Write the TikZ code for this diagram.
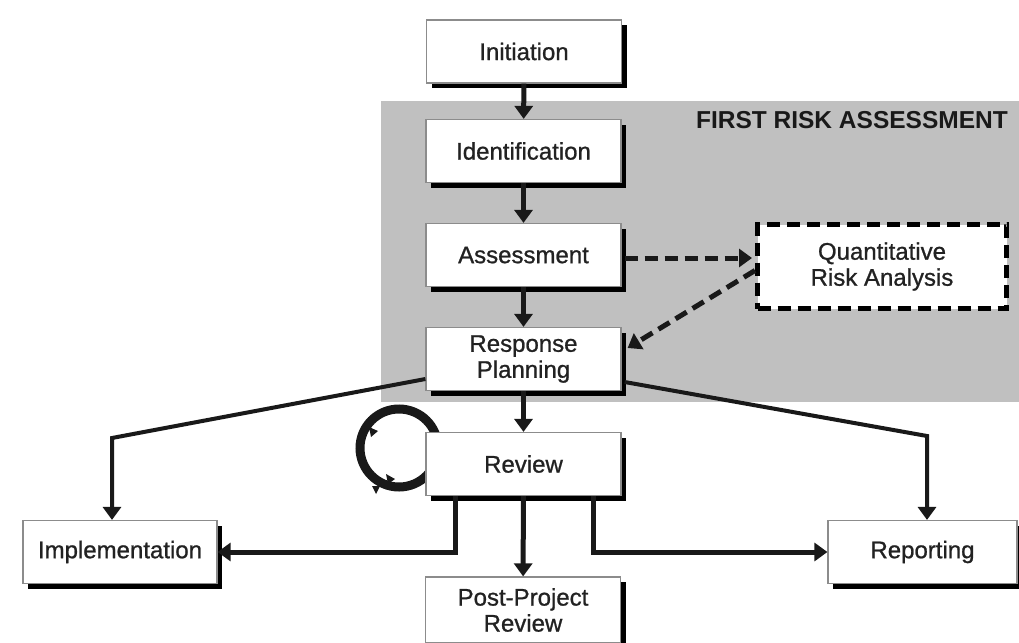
\documentclass[tikz,border=0pt]{standalone}
\usepackage{fontspec}
\setmainfont{Liberation Sans}
\newfontfamily\boxfont{Liberation Sans}[FakeBold=0.9]
\usetikzlibrary{arrows.meta,shadows,calc}

\definecolor{panelgray}{RGB}{192,192,192}
\definecolor{inkgray}{RGB}{34,34,34}

\tikzset{
  box/.style={draw=black!45, line width=1.2pt, fill=white,
    minimum width=195pt, minimum height=63pt, inner sep=0pt,
    align=center, text=inkgray, font=\boxfont\fontsize{24}{26}\selectfont,
    drop shadow={shadow xshift=5pt, shadow yshift=-5pt, fill=black, opacity=1}},
  qbox/.style={draw=black, line width=5pt, fill=white, dash pattern=on 13pt off 7pt,
    minimum width=249pt, minimum height=84pt, inner sep=0pt,
    align=center, text=inkgray, font=\boxfont\fontsize{24}{26}\selectfont},
  link/.style={draw=black!90, line width=5pt, line join=miter,
    -{Triangle[width=18pt,length=13pt]}},
  branch/.style={draw=black!90, line width=4pt, line join=miter,
    -{Triangle[width=18pt,length=13pt]}},
  dlink/.style={link, dash pattern=on 13pt off 7pt},
  heading/.style={font=\bfseries\fontsize{24.5}{26}\selectfont, text=black!90, inner sep=0pt}
}

\begin{document}
\begin{tikzpicture}[x=1pt,y=-1pt]
  \useasboundingbox (0,0) rectangle (1019,642);
  \fill[white] (0,0) rectangle (1019,642);

  % shaded panel of the first risk assessment
  \fill[panelgray] (381,101) rectangle (1019,402);
  \node[heading, anchor=east] (title) at (1008,120) {FIRST RISK ASSESSMENT};

  % loop symbol beside the review step
  \draw[black!90, line width=9pt] (399,448) circle[radius=39];
  \fill[black!90] (369,427) -- (378,431) -- (371,437) -- cycle;
  \fill[black!90] (386,474) -- (395,479) -- (388,484) -- cycle;
  \fill[black!90] (372,486) -- (380,486) -- (376,494) -- cycle;

  % process steps
  \node[box] (init)   at (524,51.5) {Initiation};
  \node[box] (ident)  at (523.5,151) {Identification};
  \node[box] (assess) at (523.5,255) {Assessment};
  \node[box] (resp)   at (523.5,359) {Response\\Planning};
  \node[box] (review) at (523.5,464) {Review};
  \node[box, minimum height=66pt] (post) at (523,610) {Post-Project\\Review};
  \node[box, minimum width=194pt] (impl) at (120,552) {Implementation};
  \node[box, minimum width=189pt] (rep)  at (922.5,552) {Reporting};
  \node[qbox] (qra) at (882,266.5) {Quantitative\\Risk Analysis};

  % main sequence
  \draw[link] (init) -- (ident);
  \draw[link] (ident) -- (assess);
  \draw[link] (assess) -- (resp);
  \draw[link] (resp) -- (review);
  \draw[link] (review) -- (post);

  % quantitative analysis side loop
  \coordinate (qa) at ([xshift=3pt,yshift=-3pt]assess.east);
  \draw[dlink] (qa) -- ([xshift=-3pt]qa -| qra.west);
  \draw[dlink] ([yshift=-4pt]qra.west) -- ([xshift=6pt,yshift=11pt]resp.east);

  % outputs of response planning
  \coordinate (cl) at (112,438);
  \coordinate (cr) at (927,436);
  \draw[branch] ([yshift=-20pt]resp.west) -- (cl) -- (cl |- impl.north);
  \draw[branch] ([xshift=3pt,yshift=-23pt]resp.east) -- (cr) -- (cr |- rep.north);

  % outputs of the review
  \coordinate (bl) at (455,552);
  \coordinate (br) at (593,552);
  \draw[link] (bl |- review.south) -- (bl) -- (impl.east);
  \draw[link] (br |- review.south) -- (br) -- (rep.west);
\end{tikzpicture}
\end{document}
